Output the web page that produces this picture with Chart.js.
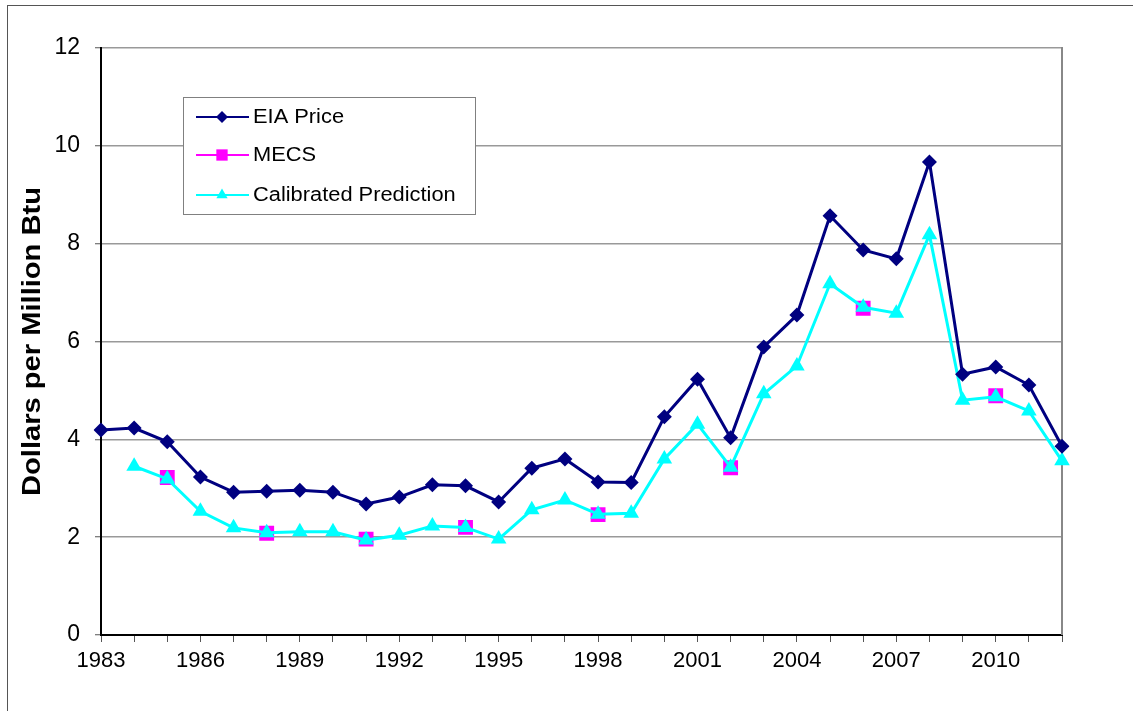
<!DOCTYPE html>
<html>
<head>
<meta charset="utf-8">
<script src="https://cdn.jsdelivr.net/npm/chart.js@4.4.1/dist/chart.umd.min.js"></script>
<style>
  html, body { margin: 0; padding: 0; background: #fff; }
  #wrap { position: relative; width: 1133px; height: 711px; overflow: hidden; }
  #frame {
    position: absolute; left: 7px; top: 5px; width: 1125px; height: 720px;
    border-left: 1px solid #555; border-top: 1px solid #555; pointer-events: none;
  }
</style>
</head>
<body>
<div id="wrap">
  <canvas id="priceChart" width="1133" height="711"></canvas>
  <div id="frame"></div>
</div>
<script>
// years on the category axis
const years = ["1983","1984","1985","1986","1987","1988","1989","1990","1991","1992",
  "1993","1994","1995","1996","1997","1998","1999","2000","2001","2002",
  "2003","2004","2005","2006","2007","2008","2009","2010","2011","2012"];
// only every third year gets a label
const yearLabels = ["1983","1986","1989","1992","1995","1998","2001","2004","2007","2010"];
const yTicks = [0, 2, 4, 6, 8, 10, 12];

// $/MMBtu
const eiaPrice = [4.19, 4.23, 3.95, 3.23, 2.92, 2.94, 2.96, 2.92, 2.68, 2.82,
  3.07, 3.05, 2.72, 3.41, 3.60, 3.13, 3.12, 4.46, 5.23, 4.03,
  5.89, 6.54, 8.57, 7.87, 7.69, 9.67, 5.33, 5.48, 5.11, 3.86];
const mecs = [null, null, 3.22, null, null, 2.08, null, null, 1.96, null,
  null, 2.20, null, null, null, 2.46, null, null, null, 3.42,
  null, null, null, 6.68, null, null, null, 4.89, null, null];
const calibrated = [null, 3.45, 3.19, 2.53, 2.19, 2.09, 2.11, 2.11, 1.94, 2.04,
  2.23, 2.20, 1.96, 2.56, 2.76, 2.47, 2.49, 3.60, 4.31, 3.43,
  4.93, 5.50, 7.18, 6.70, 6.58, 8.18, 4.80, 4.87, 4.58, 3.56];

const seriesNames = ["EIA Price", "MECS", "Calibrated Prediction"];
const FONT = "'Liberation Sans', Arial, sans-serif";

// right edge of the plot area in gray
const plotFrame = {
  id: "plotFrame",
  beforeDatasetsDraw(chart) {
    const { ctx, chartArea: a } = chart;
    ctx.save();
    ctx.strokeStyle = "#888";
    ctx.lineWidth = 2;
    ctx.beginPath();
    ctx.moveTo(a.right, a.top - 1);
    ctx.lineTo(a.right, a.bottom);
    ctx.stroke();
    ctx.restore();
  }
};

// vertical axis title, drawn a bit stretched along its length
const yTitle = {
  id: "yTitle",
  afterDraw(chart) {
    const { ctx, chartArea: a } = chart;
    ctx.save();
    ctx.translate(33, (a.top + a.bottom) / 2);
    ctx.rotate(-Math.PI / 2);
    ctx.scale(1.12, 1);
    ctx.font = "bold 26px " + FONT;
    ctx.fillStyle = "#000";
    ctx.textAlign = "center";
    ctx.textBaseline = "middle";
    ctx.fillText("Dollars per Million Btu", 0, 0);
    ctx.restore();
  }
};

// boxed legend inside the plot, line + marker for each series
const boxLegend = {
  id: "boxLegend",
  afterDatasetsDraw(chart) {
    const { ctx, chartArea: a } = chart;
    const x = a.left + 82, y = a.top + 49, w = 292, h = 117;
    ctx.save();
    ctx.fillStyle = "#fff";
    ctx.fillRect(x, y, w, h);
    ctx.strokeStyle = "#808080";
    ctx.lineWidth = 1;
    ctx.strokeRect(x + 0.5, y + 0.5, w, h);
    const rows = [20, 58, 98];
    chart.data.datasets.forEach((ds, i) => {
      const cy = y + rows[i];
      ctx.strokeStyle = ds.borderColor;
      ctx.lineWidth = 2;
      ctx.beginPath();
      ctx.moveTo(x + 13, cy);
      ctx.lineTo(x + 66, cy);
      ctx.stroke();
      ctx.fillStyle = ds.backgroundColor;
      Chart.helpers.drawPoint(ctx, {
        pointStyle: ds.pointStyle, radius: ds.legendRadius, borderWidth: 0, rotation: 0
      }, x + 39, cy);
      ctx.save();
      ctx.translate(x + 70, cy);
      ctx.scale(1.12, 1);
      ctx.font = "19.5px " + FONT;
      ctx.fillStyle = "#000";
      ctx.textBaseline = "middle";
      ctx.fillText(seriesNames[i], 0, 1);
      ctx.restore();
    });
    ctx.restore();
  }
};

new Chart(document.getElementById("priceChart"), {
  type: "line",
  data: {
    labels: years,
    datasets: [
      {
        label: seriesNames[0],
        data: eiaPrice,
        borderColor: "#000080",
        backgroundColor: "#000080",
        borderWidth: 3,
        pointStyle: "rectRot",
        pointRadius: 7.5,
        pointBorderWidth: 0,
        legendRadius: 6,
        order: 0
      },
      {
        label: seriesNames[1],
        data: mecs,
        borderColor: "#FF00FF",
        backgroundColor: "#FF00FF",
        showLine: false,
        pointStyle: "rect",
        pointRadius: 10.5,
        pointBorderWidth: 0,
        legendRadius: 8,
        order: 2
      },
      {
        label: seriesNames[2],
        data: calibrated,
        borderColor: "#00FFFF",
        backgroundColor: "#00FFFF",
        borderWidth: 3,
        pointStyle: "triangle",
        pointRadius: 9,
        pointBorderWidth: 0,
        legendRadius: 6.5,
        order: 1
      }
    ]
  },
  options: {
    responsive: false,
    devicePixelRatio: 1,
    animation: false,
    spanGaps: false,
    layout: { padding: { top: 48, right: 71, bottom: 0, left: 0 } },
    plugins: { legend: { display: false }, tooltip: { enabled: false } },
    scales: {
      x: {
        type: "category",
        offset: false,
        afterFit: s => { s.height = 76; },
        grid: { drawOnChartArea: false, tickLength: 7, tickColor: "#555", tickWidth: 1 },
        border: { color: "#000", width: 2 },
        ticks: {
          autoSkip: false,
          maxRotation: 0,
          padding: 6,
          color: "#000",
          font: { family: FONT, size: 22 },
          callback: (v, i) => yearLabels.includes(years[i]) ? years[i] : ""
        }
      },
      y: {
        min: yTicks[0],
        max: yTicks[yTicks.length - 1],
        afterFit: s => { s.width = 101; },
        afterBuildTicks: s => { s.ticks = yTicks.map(v => ({ value: v })); },
        grid: { color: "#999", lineWidth: 1.5, tickLength: 6, tickColor: "#555", tickWidth: 1 },
        border: { color: "#000", width: 2 },
        ticks: {
          padding: 15,
          color: "#000",
          font: { family: FONT, size: 23 }
        }
      }
    }
  },
  plugins: [plotFrame, boxLegend, yTitle]
});
</script>
</body>
</html>
